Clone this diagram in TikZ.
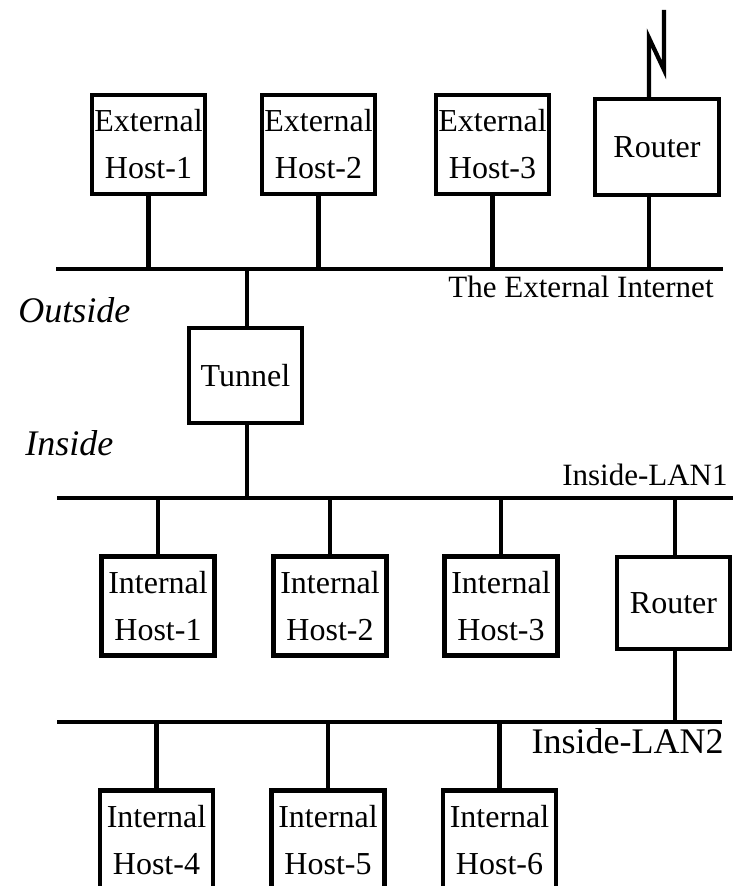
\documentclass[tikz,border=0pt]{standalone}
\usepackage{fontspec}
\setmainfont{Liberation Serif}
\begin{document}
\begin{tikzpicture}[x=1pt,y=-1pt,line width=4.2pt,
    font=\fontsize{32}{47}\selectfont]

      \clip (0,0) rectangle (735,886);

      \begin{scope}[every node/.style={draw,align=center,inner sep=0pt,
          minimum width=113pt,minimum height=99pt}]
        \node (eh1) at (148.5,144.5) {External\\Host-1};
        \node (eh2) at (318.5,144.5) {External\\Host-2};
        \node (eh3) at (492.5,144.5) {External\\Host-3};
        \node (rt1) [minimum width=124pt,minimum height=96pt] at (657,147) {Router};
        \node (tun) [minimum height=95pt] at (245.5,375.5) {Tunnel};
        \node (ih1) at (158,606) {Internal\\Host-1};
        \node (ih2) at (330,606) {Internal\\Host-2};
        \node (ih3) at (501,606) {Internal\\Host-3};
        \node (rt2) [minimum height=92pt] at (673.5,603) {Router};
        \node (ih4) at (156.5,840) {Internal\\Host-4};
        \node (ih5) at (328,840) {Internal\\Host-5};
        \node (ih6) at (499.5,840) {Internal\\Host-6};
      \end{scope}

      % the three wires
      \coordinate (extL)  at (56,269);
      \coordinate (extR)  at (723,269);
      \coordinate (lan1L) at (57,498);
      \coordinate (lan1R) at (733,498);
      \coordinate (lan2L) at (57,722);
      \coordinate (lan2R) at (722,722);
      \draw (extL) -- (extR);
      \draw (lan1L) -- (lan1R);
      \draw (lan2L) -- (lan2R);

      \begin{scope}[font=\fontsize{31}{37}\selectfont]
        \node[anchor=base east] (extlbl)  at (719,297) {The External Internet};
        \node[anchor=base east] (lan1lbl) at (733,485) {Inside-LAN1};
      \end{scope}
      \node[anchor=base east,font=\fontsize{36}{43}\selectfont] (lan2lbl) at (729,753) {Inside-LAN2};
      \node[anchor=base west,font=\fontsize{36}{43}\selectfont\itshape] (outlbl) at (13,322) {Outside};
      \node[anchor=base west,font=\fontsize{36}{43}\selectfont\itshape] (inlbl) at (20,455) {Inside};

      % drops to the wires
      \draw (eh1) -- (eh1 |- extL);
      \draw (eh2) -- (eh2 |- extL);
      \draw (eh3) -- (eh3 |- extL);
      \coordinate (rtx) at (649,0);
      \draw (rtx |- rt1.south) -- (rtx |- extL);
      \draw (rtx |- rt1.north) -- ++(0,-59) -- ++(15,32) -- ++(0,-60);
      \draw (tun.north -| 247,0) -- (247,0 |- extL);
      \draw (tun.south -| 247,0) -- (247,0 |- lan1L);
      \draw (ih1) -- (ih1 |- lan1L);
      \draw (ih2) -- (ih2 |- lan1L);
      \draw (ih3) -- (ih3 |- lan1L);
      \draw (rt2.north -| 675,0) -- (675,0 |- lan1L);
      \draw (rt2.south -| 675,0) -- (675,0 |- lan2L);
      \draw (ih4) -- (ih4 |- lan2L);
      \draw (ih5) -- (ih5 |- lan2L);
      \draw (ih6) -- (ih6 |- lan2L);

    \end{tikzpicture}
\end{document}
